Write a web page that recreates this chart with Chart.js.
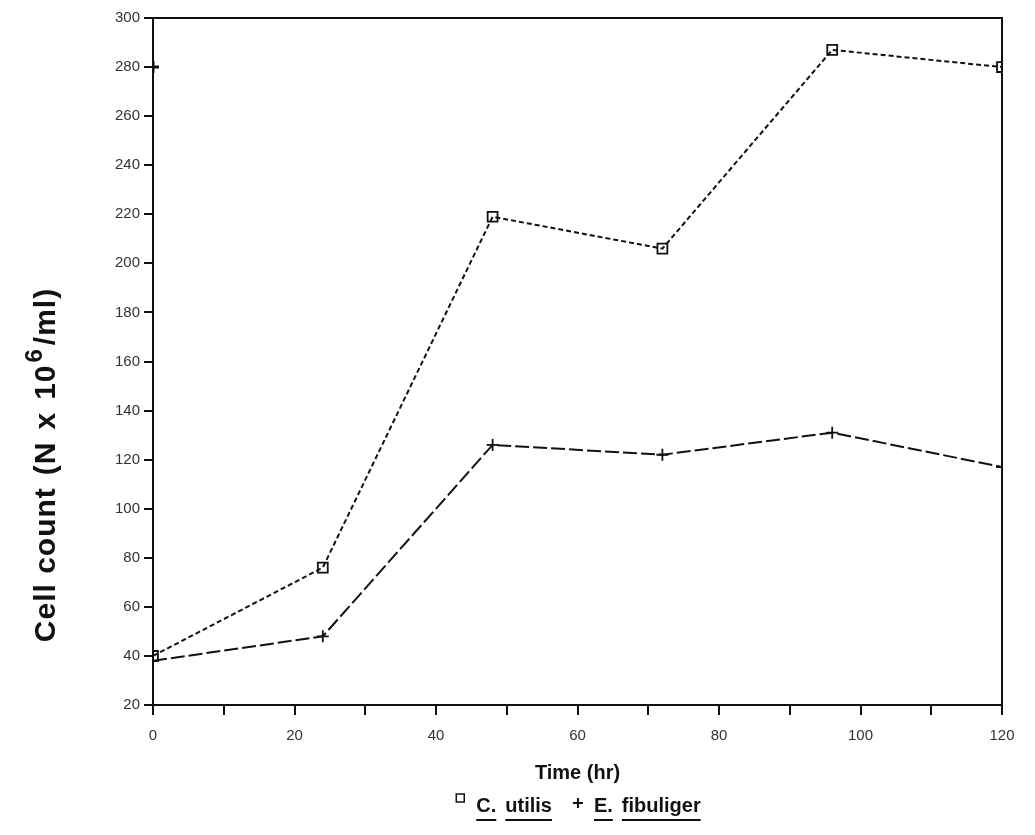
<!DOCTYPE html>
<html>
<head>
<meta charset="utf-8">
<title>Cell count over time</title>
<script src="https://cdn.jsdelivr.net/npm/chart.js@4"></script>
<style>
    body { margin: 0; background: #fff; }
    canvas { display: block; }
</style>
</head>
<body>
<canvas id="growthChart" width="1035" height="835"></canvas>
<script>
// sampling times (hr)
const hours = [0, 24, 48, 72, 96, 120];
// cell counts, N x 10^6 / ml
const utilisCounts = [40, 76, 219, 206, 287, 280];
const fibuligerCounts = [38, 48, 126, 122, 131, 117];
// lone marker printed on the y axis
const strayHours = [0];
const strayCounts = [280];

const yTicks = [20, 40, 60, 80, 100, 120, 140, 160, 180, 200, 220, 240, 260, 280, 300];
const xTickLabels = [0, 20, 40, 60, 80, 100, 120];

const toPoints = (xs, ys) => xs.map((x, i) => ({ x: x, y: ys[i] }));

const tickFont = '"Liberation Sans", Arial, sans-serif';
const labelFont = '"Liberation Sans", Arial, sans-serif';

// box round the plot area
const frame = {
    id: 'frame',
    beforeDatasetsDraw(chart) {
        const { ctx, chartArea: a } = chart;
        ctx.save();
        ctx.strokeStyle = '#111';
        ctx.lineWidth = 2;
        ctx.strokeRect(a.left, a.top, a.right - a.left, a.bottom - a.top);
        ctx.restore();
    }
};

// rotated y title with a real superscript 6
const yTitle = {
    id: 'yTitle',
    afterDraw(chart) {
        const { ctx } = chart;
        const parts = [
            { t: 'Cell count', size: 30, rise: 0, gap: 12 },
            { t: '(N', size: 30, rise: 0, gap: 12 },
            { t: 'x', size: 30, rise: 0, gap: 12 },
            { t: '10', size: 30, rise: 0, gap: 2 },
            { t: '6', size: 24, rise: 13, gap: 3 },
            { t: '/ml)', size: 30, rise: 0, gap: 0 }
        ];
        ctx.save();
        ctx.fillStyle = '#111';
        ctx.textBaseline = 'alphabetic';
        ctx.letterSpacing = '1px';
        let total = 0;
        parts.forEach(p => {
            ctx.font = 'bold ' + p.size + 'px ' + labelFont;
            p.w = ctx.measureText(p.t).width;
            total += p.w + p.gap;
        });
        ctx.translate(55, 465);
        ctx.rotate(-Math.PI / 2);
        let x = -total / 2;
        parts.forEach(p => {
            ctx.font = 'bold ' + p.size + 'px ' + labelFont;
            ctx.fillText(p.t, x, -p.rise);
            x += p.w + p.gap;
        });
        ctx.restore();
    }
};

// legend row under the axis title, species names underlined
const speciesLegend = {
    id: 'speciesLegend',
    afterDraw(chart) {
        const { ctx, chartArea: a } = chart;
        const items = chart.data.datasets.filter(d => d.legendText);
        ctx.save();
        ctx.font = 'bold 20px ' + labelFont;
        ctx.fillStyle = '#111';
        ctx.strokeStyle = '#111';
        ctx.textBaseline = 'alphabetic';
        const y = 812;
        const markW = 12, gapMark = 10, gapWord = 9, gapItem = 20;
        let total = 0;
        items.forEach((d, i) => {
            total += markW + gapMark;
            d.legendText.forEach((w, j) => {
                total += ctx.measureText(w).width + (j ? gapWord : 0);
            });
            if (i) total += gapItem;
        });
        let x = (a.left + a.right) / 2 - total / 2;
        items.forEach((d, i) => {
            if (i) x += gapItem;
            ctx.lineWidth = 1.5;
            if (d.pointStyle === 'rect') {
                ctx.strokeRect(x + 2, y - 18, 8, 8);
            } else {
                ctx.lineWidth = 2;
                ctx.beginPath();
                ctx.moveTo(x + 1, y - 9); ctx.lineTo(x + 11, y - 9);
                ctx.moveTo(x + 6, y - 14); ctx.lineTo(x + 6, y - 4);
                ctx.stroke();
            }
            x += markW + gapMark;
            d.legendText.forEach((w, j) => {
                if (j) x += gapWord;
                const ww = ctx.measureText(w).width;
                ctx.fillText(w, x, y);
                ctx.lineWidth = 2;
                ctx.beginPath();
                ctx.moveTo(x, y + 8);
                ctx.lineTo(x + ww, y + 8);
                ctx.stroke();
                x += ww;
            });
        });
        ctx.restore();
    }
};

new Chart(document.getElementById('growthChart'), {
    type: 'line',
    data: {
        datasets: [{
            label: 'C. utilis',
            legendText: ['C.', 'utilis'],
            data: toPoints(hours, utilisCounts),
            borderColor: '#111',
            borderWidth: 2,
            borderDash: [5, 3],
            pointStyle: 'rect',
            pointRadius: 7,
            pointBorderWidth: 1.8,
            pointBorderColor: '#111',
            pointBackgroundColor: 'rgba(255,255,255,0)',
            fill: false
        }, {
            label: 'E. fibuliger',
            legendText: ['E.', 'fibuliger'],
            data: toPoints(hours, fibuligerCounts),
            borderColor: '#111',
            borderWidth: 2,
            borderDash: [14, 4],
            pointStyle: 'cross',
            pointRadius: 6,
            pointBorderWidth: 1.8,
            pointBorderColor: '#111',
            fill: false
        }, {
            label: 'stray',
            data: toPoints(strayHours, strayCounts),
            showLine: false,
            pointStyle: 'cross',
            pointRadius: 6,
            pointBorderWidth: 3,
            pointBorderColor: '#111'
        }]
    },
    options: {
        responsive: false,
        animation: false,
        layout: { padding: { top: 18, right: 33, left: 0, bottom: 0 } },
        plugins: {
            legend: { display: false },
            tooltip: { enabled: false }
        },
        scales: {
            x: {
                type: 'linear',
                min: 0,
                max: 120,
                afterFit(scale) { scale.height = 130; },
                border: { display: true, color: '#111', width: 2 },
                grid: { drawOnChartArea: false, drawTicks: true, tickLength: 10, color: '#111', lineWidth: 2 },
                ticks: {
                    stepSize: 10,
                    autoSkip: false,
                    maxRotation: 0,
                    padding: 12,
                    color: '#333',
                    font: { family: tickFont, size: 15 },
                    callback: v => xTickLabels.includes(v) ? String(v) : ''
                },
                title: {
                    display: true,
                    text: 'Time (hr)',
                    color: '#111',
                    font: { family: labelFont, size: 20, weight: 'bold' },
                    padding: { top: 0, bottom: 50 }
                }
            },
            y: {
                min: 20,
                max: 300,
                afterFit(scale) { scale.width = 153; },
                afterBuildTicks(scale) { scale.ticks = yTicks.map(v => ({ value: v })); },
                border: { display: true, color: '#111', width: 2 },
                grid: { drawOnChartArea: false, drawTicks: true, tickLength: 9, color: '#111', lineWidth: 2 },
                ticks: {
                    padding: 4,
                    color: '#333',
                    font: { family: tickFont, size: 15 }
                }
            }
        }
    },
    plugins: [frame, yTitle, speciesLegend]
});
</script>
</body>
</html>
